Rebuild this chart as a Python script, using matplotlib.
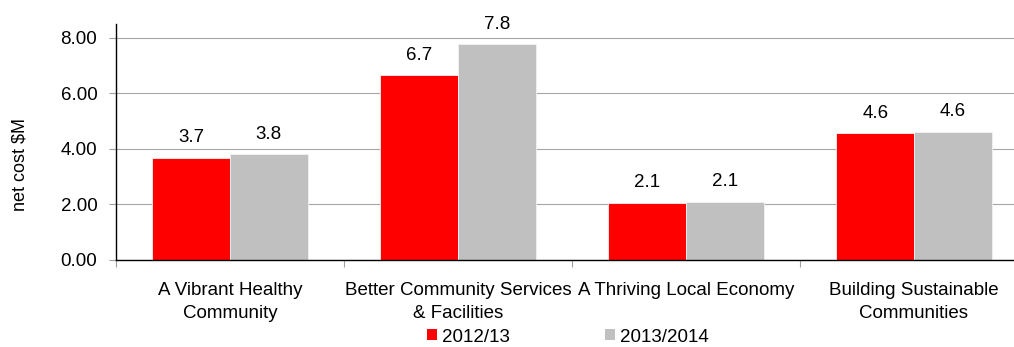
import numpy as np
import matplotlib
matplotlib.use("Agg")
import matplotlib.pyplot as plt
from matplotlib.patches import Patch

plt.rcParams['font.family'] = ['Liberation Sans', 'DejaVu Sans']

# net cost by strategic theme, $M
categories = ["A Vibrant Healthy\nCommunity",
              "Better Community Services\n& Facilities",
              "A Thriving Local Economy",
              "Building Sustainable\nCommunities"]
cost_2012 = [3.69, 6.66, 2.07, 4.56]
cost_2013 = [3.81, 7.77, 2.10, 4.62]
series_names = ["2012/13", "2013/2014"]
yticks = [0, 2, 4, 6, 8]

red = "#FF0000"
grey = "#C0C0C0"
fs = 13.5

fig = plt.figure(figsize=(10.14, 3.47), dpi=100)
ax = fig.add_axes([116 / 1014, 87 / 347, 912 / 1014, 236 / 347])

x = np.arange(len(categories))
w = 0.34
b1 = ax.bar(x - w / 2, cost_2012, w, color=red, edgecolor="#f2f2f2", linewidth=0.6, zorder=3)
b2 = ax.bar(x + w / 2, cost_2013, w, color=grey, edgecolor="#f2f2f2", linewidth=0.6, zorder=3)

for bars, vals in ((b1, cost_2012), (b2, cost_2013)):
    for r, v in zip(bars, vals):
        ax.annotate(f"{v:.1f}", (r.get_x() + r.get_width() / 2, v),
                    xytext=(0, 11), textcoords="offset points",
                    ha="center", va="baseline", fontsize=fs)

ax.set_xlim(-0.5, len(categories) - 0.5)
ax.set_ylim(0, 8.5)
ax.set_yticks(yticks)
ax.set_yticklabels([f"{t:.2f}" for t in yticks], fontsize=fs)
ax.tick_params(axis="y", length=5, width=0.8, color="#a0a0a0", pad=8.5)

ax.set_xticks(x)
ax.set_xticklabels(categories, fontsize=fs, linespacing=1.42)
ax.tick_params(axis="x", which="major", length=0, pad=16)
ax.set_xticks(np.arange(len(categories) + 1) - 0.5, minor=True)
ax.tick_params(axis="x", which="minor", length=5, width=0.8, color="#a0a0a0")

ax.grid(axis="y", color="#a6a6a6", linewidth=0.8, zorder=0)
ax.set_axisbelow(True)
for s in ("top", "right"):
    ax.spines[s].set_visible(False)
for s in ("left", "bottom"):
    ax.spines[s].set_color("black")
    ax.spines[s].set_linewidth(1.0)
    ax.spines[s].set_zorder(4)

fig.text(20 / 1014, 1 - 164 / 347, "net cost $M", rotation=90,
         ha="center", va="center", fontsize=13)

handles = [Patch(facecolor=red, edgecolor="none"), Patch(facecolor=grey, edgecolor="none")]
fig.legend(handles, series_names, loc="center", bbox_to_anchor=(568 / 1014, 1 - 337 / 347),
           ncol=2, frameon=False, fontsize=fs, handlelength=0.53, handleheight=0.53,
           handletextpad=0.27, columnspacing=5.1, borderpad=0, borderaxespad=0)

fig.savefig("out.png", dpi=100)
